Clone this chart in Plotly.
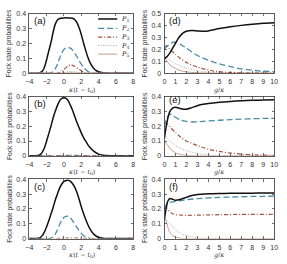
import plotly.graph_objects as go

W, H = 287, 264

# ---------------- data ----------------
# Left panels: x = kappa (t - t0)
a_x1 = [-4, -3, -2.75, -2.5, -2.25, -2, -1.75, -1.5, -1.25, -1, -0.75, -0.5, 0, 0.5, 1, 1.25, 1.5, 1.75, 2, 2.25, 2.5, 2.75, 3, 3.25, 3.5, 3.75, 4, 4.5, 5, 6, 8]
a_p1 = [0, 0, 0.003, 0.012, 0.04, 0.09, 0.15, 0.205, 0.275, 0.33, 0.358, 0.368, 0.372, 0.372, 0.37, 0.36, 0.34, 0.305, 0.26, 0.205, 0.155, 0.108, 0.072, 0.046, 0.028, 0.016, 0.009, 0.002, 0, 0, 0]
a_x2 = [-4, -1.75, -1.5, -1.25, -1, -0.75, -0.5, -0.25, 0, 0.25, 0.5, 0.75, 1, 1.25, 1.5, 1.75, 2, 2.25, 2.5, 2.75, 3, 3.5, 8]
a_p2 = [0, 0, 0.002, 0.01, 0.03, 0.06, 0.1, 0.135, 0.16, 0.17, 0.172, 0.168, 0.155, 0.135, 0.11, 0.085, 0.06, 0.04, 0.024, 0.012, 0.005, 0, 0]
a_x3 = [-4, -0.75, -0.5, 0, 0.5, 0.8, 1.25, 1.75, 2.25, 2.75, 8]
a_p3 = [0, 0, 0.004, 0.025, 0.049, 0.055, 0.046, 0.025, 0.008, 0, 0]
a_x4 = [-4, -0.5, 0, 0.5, 0.8, 1.25, 1.75, 2.25, 8]
a_p4 = [0, 0, 0.004, 0.010, 0.012, 0.009, 0.004, 0, 0]
a_x5 = [-4, 0, 0.8, 1.75, 8]
a_p5 = [0, 0, 0.002, 0, 0]

b_x1 = [-4, -3, -2.75, -2.5, -2.25, -2, -1.75, -1.5, -1.25, -1, -0.75, -0.5, -0.25, 0, 0.25, 0.5, 0.75, 1, 1.25, 1.5, 1.75, 2, 2.25, 2.5, 2.75, 3, 3.5, 4, 4.5, 5, 6, 8]
b_p1 = [0, 0.002, 0.008, 0.025, 0.055, 0.1, 0.15, 0.2, 0.255, 0.3, 0.34, 0.37, 0.387, 0.392, 0.388, 0.37, 0.34, 0.305, 0.265, 0.225, 0.19, 0.155, 0.125, 0.1, 0.076, 0.056, 0.028, 0.012, 0.005, 0.002, 0, 0]
b_x2 = [-4, -1, 0, 1, 2, 3, 8]
b_p2 = [0, 0, 0.002, 0.003, 0.002, 0, 0]
b_x3 = [-4, 8]
b_p3 = [0.001, 0.001]

c_x1 = [-4, -3, -2.75, -2.5, -2.25, -2, -1.75, -1.5, -1.25, -1, -0.75, -0.5, -0.25, 0, 0.25, 0.5, 0.75, 1, 1.25, 1.5, 1.75, 2, 2.25, 2.5, 2.75, 3, 3.25, 3.5, 3.75, 4, 4.5, 5, 6, 8]
c_p1 = [0, 0.002, 0.007, 0.02, 0.045, 0.08, 0.12, 0.165, 0.21, 0.26, 0.3, 0.34, 0.368, 0.385, 0.392, 0.393, 0.385, 0.37, 0.345, 0.31, 0.265, 0.215, 0.17, 0.13, 0.095, 0.065, 0.043, 0.027, 0.016, 0.009, 0.003, 0.001, 0, 0]
c_x2 = [-4, -1.75, -1.5, -1.25, -1, -0.75, -0.5, -0.25, 0, 0.25, 0.5, 0.75, 1, 1.25, 1.5, 1.75, 2, 2.25, 2.5, 2.75, 3, 3.5, 8]
c_p2 = [0, 0, 0.003, 0.012, 0.03, 0.06, 0.095, 0.125, 0.143, 0.15, 0.15, 0.14, 0.12, 0.098, 0.075, 0.053, 0.035, 0.021, 0.012, 0.006, 0.002, 0, 0]
c_x3 = [-4, -0.5, 0.5, 1.5, 2.5, 8]
c_p3 = [0.001, 0.001, 0.004, 0.003, 0.001, 0.001]

# Right panels: x = g / kappa
d_x1 = [0, 0.25, 0.5, 0.75, 1, 1.25, 1.5, 1.75, 2, 2.5, 3, 3.5, 4, 4.5, 5, 6, 7, 8, 9, 10]
d_p1 = [0.12, 0.14, 0.17, 0.21, 0.25, 0.29, 0.32, 0.34, 0.352, 0.358, 0.355, 0.352, 0.355, 0.365, 0.375, 0.39, 0.402, 0.412, 0.42, 0.425]
d_x2 = [0, 0.25, 0.5, 0.75, 1, 1.5, 2, 2.5, 3, 4, 5, 6, 7, 8, 9, 10]
d_p2 = [0.2, 0.225, 0.245, 0.258, 0.26, 0.24, 0.21, 0.178, 0.148, 0.108, 0.078, 0.054, 0.036, 0.024, 0.016, 0.013]
d_x3 = [0, 0.2, 0.5, 1, 1.5, 2, 3, 4, 5, 6, 7, 10]
d_p3 = [0.22, 0.232, 0.2, 0.16, 0.12, 0.09, 0.05, 0.025, 0.012, 0.005, 0.002, 0]
d_x4 = [0, 0.2, 0.5, 1, 1.5, 2, 3, 4, 5, 6, 10]
d_p4 = [0.14, 0.135, 0.11, 0.08, 0.058, 0.04, 0.02, 0.008, 0.003, 0.001, 0]
d_x5 = [0, 0.1, 0.25, 0.5, 1, 1.5, 2, 3, 4, 10]
d_p5 = [0.11, 0.12, 0.1, 0.07, 0.04, 0.02, 0.01, 0.003, 0, 0]

e_x1 = [0, 0.15, 0.3, 0.5, 0.75, 1, 1.5, 2, 2.5, 3, 4, 5, 6, 7, 8, 9, 10]
e_p1 = [0.12, 0.19, 0.25, 0.3, 0.322, 0.328, 0.318, 0.314, 0.325, 0.338, 0.352, 0.361, 0.367, 0.371, 0.374, 0.376, 0.378]
e_x2 = [0, 0.25, 0.5, 0.75, 1, 1.5, 2, 2.5, 3, 4, 5, 6, 7, 8, 9, 10]
e_p2 = [0.2, 0.26, 0.28, 0.275, 0.26, 0.24, 0.232, 0.228, 0.23, 0.235, 0.24, 0.244, 0.247, 0.25, 0.252, 0.253]
e_x3 = [0, 0.25, 0.5, 1, 1.5, 2, 3, 4, 5, 6, 7, 8, 10]
e_p3 = [0.22, 0.215, 0.195, 0.158, 0.125, 0.1, 0.07, 0.045, 0.03, 0.019, 0.012, 0.007, 0.003]
e_x4 = [0, 0.25, 0.5, 1, 1.5, 2, 3, 4, 5, 10]
e_p4 = [0.15, 0.12, 0.1, 0.07, 0.05, 0.035, 0.016, 0.007, 0.002, 0]
e_x5 = [0, 0.15, 0.3, 0.5, 1, 1.5, 2, 3, 10]
e_p5 = [0.1, 0.085, 0.07, 0.05, 0.02, 0.008, 0.003, 0, 0]

f_x1 = [0, 0.15, 0.3, 0.5, 0.75, 1, 1.5, 2, 2.5, 3, 4, 5, 6, 7, 8, 9, 10]
f_p1 = [0.13, 0.2, 0.25, 0.27, 0.265, 0.258, 0.265, 0.278, 0.29, 0.297, 0.302, 0.304, 0.305, 0.306, 0.306, 0.307, 0.307]
f_x2 = [0, 0.15, 0.3, 0.5, 0.75, 1, 1.5, 2, 3, 4, 5, 6, 7, 8, 9, 10]
f_p2 = [0.2, 0.225, 0.24, 0.245, 0.247, 0.25, 0.256, 0.262, 0.269, 0.274, 0.278, 0.28, 0.282, 0.284, 0.285, 0.286]
f_x3 = [0, 0.25, 0.5, 0.75, 1, 1.5, 2, 3, 5, 7, 10]
f_p3 = [0.22, 0.205, 0.18, 0.168, 0.162, 0.158, 0.157, 0.158, 0.161, 0.163, 0.164]
f_x4 = [0, 0.25, 0.5, 1, 1.5, 2, 3, 4, 10]
f_p4 = [0.14, 0.12, 0.1, 0.06, 0.035, 0.02, 0.006, 0.001, 0]
f_x5 = [0, 0.1, 0.3, 0.5, 0.75, 1, 1.5, 2, 10]
f_p5 = [0.12, 0.13, 0.08, 0.04, 0.02, 0.01, 0.002, 0, 0]

legend_names = ["P<sub>1</sub>", "P<sub>2</sub>", "P<sub>3</sub>", "P<sub>4</sub>", "P<sub>5</sub>"]
left_ticks = [-4, -2, 0, 2, 4, 6, 8]
right_ticks = [0, 1, 2, 3, 4, 5, 6, 7, 8, 9, 10]

# ---------------- styles ----------------
COLORS = ["#111111", "#4a8ca8", "#a2503c", "#c2a2a6", "#c49c86"]
DASHES = ["solid", "6px,3px", "4px,2px,1px,2px", "1px,1.5px", "solid"]
WIDTHS = [1.5, 1.3, 1.2, 1.0, 1.0]
FONT = "Liberation Sans, Arial, sans-serif"

def px2x(px):
    return px / W

def py2y(py):
    return 1 - py / H

fig = go.Figure()

panels = [
    ("a", 1, (26, 133), (10, 71), 0.4, [(a_x1, a_p1, 0), (a_x2, a_p2, 1), (a_x3, a_p3, 2), (a_x4, a_p4, 3), (a_x5, a_p5, 4)]),
    ("b", 2, (26, 133), (95, 156), 0.4, [(b_x2, b_p2, 1), (b_x3, b_p3, 2), (b_x1, b_p1, 0)]),
    ("c", 3, (26, 133), (180, 241), 0.4, [(c_x2, c_p2, 1), (c_x3, c_p3, 2), (c_x1, c_p1, 0)]),
    ("d", 4, (165, 278), (10, 71), 0.5, [(d_x5, d_p5, 4), (d_x4, d_p4, 3), (d_x3, d_p3, 2), (d_x2, d_p2, 1), (d_x1, d_p1, 0)]),
    ("e", 5, (165, 278), (95, 156), 0.4, [(e_x5, e_p5, 4), (e_x4, e_p4, 3), (e_x3, e_p3, 2), (e_x2, e_p2, 1), (e_x1, e_p1, 0)]),
    ("f", 6, (165, 278), (180, 241), 0.4, [(f_x5, f_p5, 4), (f_x4, f_p4, 3), (f_x3, f_p3, 2), (f_x2, f_p2, 1), (f_x1, f_p1, 0)]),
]

annotations = []
shapes = []
layout = {}

for name, idx, (xl, xr), (yt, yb), ymax, curves in panels:
    sx = "" if idx == 1 else str(idx)
    xa, ya = "x" + sx, "y" + sx
    left = idx <= 3
    for xs, ys, k in curves:
        fig.add_trace(go.Scatter(
            x=xs, y=ys, xaxis=xa, yaxis=ya, mode="lines",
            line=dict(color=COLORS[k], width=WIDTHS[k], dash=DASHES[k], shape="spline", smoothing=0.7),
            showlegend=False, hoverinfo="skip"))
    axcommon = dict(showline=True, linecolor="#333", linewidth=0.8, mirror="allticks",
                    ticks="inside", ticklen=2.5, tickcolor="#333", tickwidth=0.7,
                    showgrid=False, zeroline=False, ticklabeloverflow="allow",
                    tickfont=dict(family=FONT, size=7, color="#333"))
    layout["xaxis" + sx] = dict(axcommon, domain=[px2x(xl), px2x(xr)], anchor=ya,
                                range=[-4, 8] if left else [0, 10],
                                tickvals=left_ticks if left else right_ticks,
                                ticklabelstandoff=2)
    yticks = [0, 0.1, 0.2, 0.3, 0.4] + ([0.5] if ymax > 0.45 else [])
    layout["yaxis" + sx] = dict(axcommon, domain=[py2y(yb), py2y(yt)], anchor=xa,
                                range=[0, ymax], tickvals=yticks,
                                ticktext=["0" if v == 0 else ("%g" % v) for v in yticks],
                                ticklabelstandoff=1)
    lx = xl + 3
    ly = yt + 7 if name != "e" else yt + 3
    annotations.append(dict(text="(%s)" % name, xref="paper", yref="paper",
                            x=px2x(lx), y=py2y(ly), xanchor="left", yanchor="middle",
                            showarrow=False, font=dict(family=FONT, size=9.5, color="#111")))
    annotations.append(dict(text="Fock state probabilities", xref="paper", yref="paper",
                            x=px2x(xl - 20), y=py2y((yt + yb) / 2), textangle=-90,
                            xanchor="center", yanchor="middle", showarrow=False,
                            font=dict(family=FONT, size=6.6, color="#333")))
    xt = "<i>κ</i>(<i>t</i> − <i>t</i><sub>0</sub>)" if left else "<i>g</i>/<i>κ</i>"
    annotations.append(dict(text=xt, xref="paper", yref="paper",
                            x=px2x((xl + xr) / 2), y=py2y(yb + 17),
                            xanchor="center", yanchor="middle", showarrow=False,
                            font=dict(family="DejaVu Serif, serif", size=6.3, color="#333")))

# manual legend in panel (a)
leg_y = [0.365, 0.302, 0.243, 0.186, 0.128]
for k in range(5):
    shapes.append(dict(type="line", xref="x", yref="y", x0=3.95, x1=6.15, y0=leg_y[k], y1=leg_y[k],
                       line=dict(color=COLORS[k], width=WIDTHS[k], dash=DASHES[k])))
    annotations.append(dict(text="<i>" + legend_names[k].replace("<sub>", "</i><sub>"), xref="x", yref="y",
                            x=6.4, y=leg_y[k], xanchor="left", yanchor="middle", showarrow=False,
                            font=dict(family="DejaVu Serif, serif", size=6.5, color="#222")))

fig.update_layout(
    width=W, height=H, margin=dict(l=0, r=0, t=0, b=0),
    paper_bgcolor="white", plot_bgcolor="white",
    annotations=annotations, shapes=shapes, **layout)

fig.write_html(
    "out.html",
    config={"displayModeBar": False, "staticPlot": True},
    post_script="document.body.style.margin='0';document.body.style.padding='0';"
                "document.documentElement.style.overflow='hidden';document.body.style.overflow='hidden';")
